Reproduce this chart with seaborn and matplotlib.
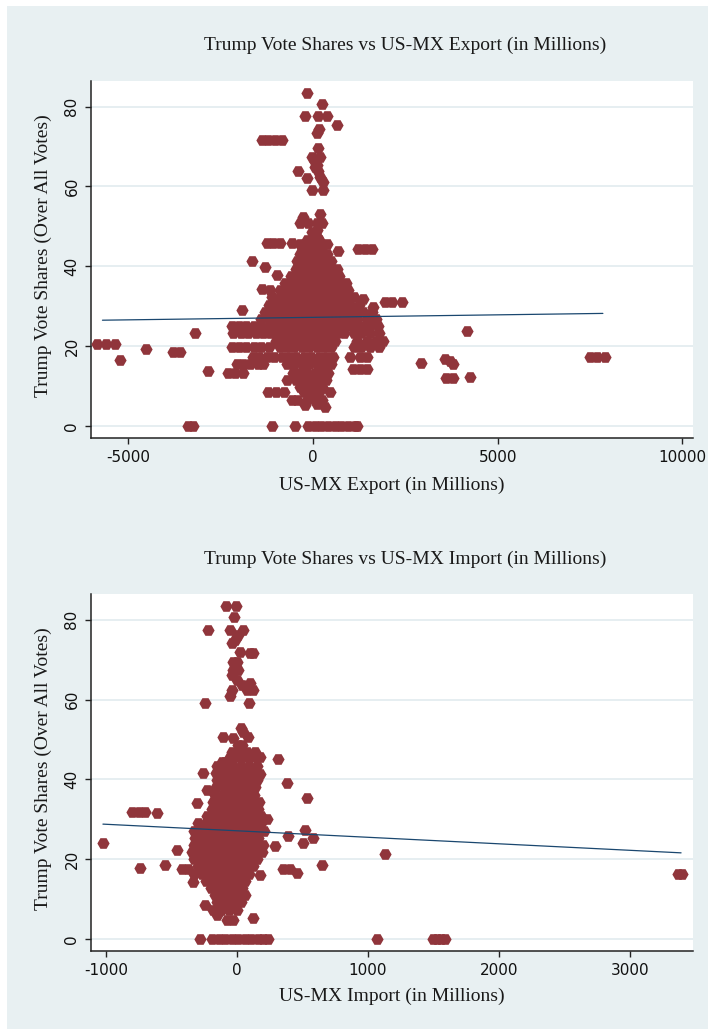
import matplotlib
matplotlib.use("Agg")
import matplotlib.pyplot as plt
import seaborn as sns
from matplotlib.patches import Rectangle

# ---------------------------------------------------------------------------
# County observations: (US-MX export change, Trump vote share)
# ---------------------------------------------------------------------------
export_points = [
    # upper tail
    (-171, 83.5), (235, 80.6), (-217, 77.7), (144, 77.7), (370, 77.7), (641, 75.5),
    (172, 74.3), (99, 73.3), (-1390, 71.6), (-1210, 71.6), (-1030, 71.6), (-850, 71.6),
    (126, 69.5), (-36, 67.3), (190, 67.3), (54, 66.2), (100, 65.4), (54, 64.9), (126, 63.9),
    (-397, 63.9), (-171, 62.0), (190, 62.4), (280, 61.2), (-36, 59.2), (280, 59.2),
    # crest of the main cluster
    (-280, 52.4), (190, 53.1), (-352, 50.8), (-126, 50.8), (99, 50.8), (235, 50.8),
    (-36, 48.6), (99, 49.0), (99, 47.4), (54, 46.1),
    (-1255, 45.9), (-1075, 45.9), (-894, 45.9), (-578, 45.9), (-352, 45.7), (-171, 44.4),
    (370, 45.5), (686, 43.9), (1228, 44.3), (1410, 44.3), (1590, 44.3),
    (-1662, 41.3), (-1300, 39.9), (-983, 37.8), (-1390, 34.2), (-1930, 29.0),
    (1364, 31.9), (1634, 29.8), (1950, 31.0), (2150, 31.0), (2400, 31.0),
    # main cluster
    (-150, 46.5), (0, 46.5), (150, 46.5),
    (-300, 44.8), (-120, 44.8), (60, 44.8), (240, 44.8),
    (-350, 43.0), (-170, 43.0), (10, 43.0), (190, 43.0), (370, 43.0),
    (-420, 41.2), (-240, 41.2), (-60, 41.2), (120, 41.2), (300, 41.2), (480, 41.2),
    (-450, 39.4), (-270, 39.4), (-90, 39.4), (90, 39.4), (270, 39.4), (450, 39.4), (640, 39.4),
    (-600, 37.6), (-420, 37.6), (-240, 37.6), (-60, 37.6), (120, 37.6), (300, 37.6), (480, 37.6),
    (700, 37.6),
    (-750, 35.8), (-560, 35.8), (-380, 35.8), (-200, 35.8), (-20, 35.8), (160, 35.8), (340, 35.8),
    (520, 35.8), (720, 35.8), (900, 35.8),
    (-1150, 34.0), (-900, 34.0), (-720, 34.0), (-540, 34.0), (-360, 34.0), (-180, 34.0), (0, 34.0),
    (180, 34.0), (360, 34.0), (540, 34.0), (760, 34.0), (950, 34.0),
    (-1100, 32.2), (-900, 32.2), (-700, 32.2), (-500, 32.2), (-300, 32.2), (-100, 32.2), (100, 32.2),
    (300, 32.2), (500, 32.2), (700, 32.2), (900, 32.2), (1100, 32.2),
    (-1200, 30.4), (-1000, 30.4), (-800, 30.4), (-600, 30.4), (-400, 30.4), (-200, 30.4), (0, 30.4),
    (200, 30.4), (400, 30.4), (600, 30.4), (800, 30.4), (1000, 30.4), (1250, 30.4),
    (-1300, 28.6), (-1100, 28.6), (-900, 28.6), (-700, 28.6), (-500, 28.6), (-300, 28.6), (-100, 28.6),
    (100, 28.6), (300, 28.6), (500, 28.6), (700, 28.6), (900, 28.6), (1100, 28.6), (1350, 28.6),
    (1600, 28.6),
    (-1400, 26.8), (-1200, 26.8), (-1000, 26.8), (-800, 26.8), (-600, 26.8), (-400, 26.8), (-200, 26.8),
    (0, 26.8), (200, 26.8), (400, 26.8), (600, 26.8), (800, 26.8), (1000, 26.8), (1200, 26.8),
    (1450, 26.8), (1700, 26.8),
    (-2200, 25.0), (-2000, 25.0), (-1800, 25.0), (-1600, 25.0), (-1400, 25.0), (-1200, 25.0),
    (-1030, 25.0), (-850, 25.0), (-650, 25.0), (-450, 25.0), (-250, 25.0), (-50, 25.0), (150, 25.0),
    (350, 25.0), (550, 25.0), (750, 25.0), (950, 25.0), (1150, 25.0), (1350, 25.0), (1550, 25.0),
    (1750, 25.0),
    (-2158, 23.2), (-1950, 23.2), (-1750, 23.2), (-1550, 23.2), (-1350, 23.2), (-1150, 23.2),
    (-950, 23.2), (-750, 23.2), (-550, 23.2), (-350, 23.2), (-150, 23.2), (50, 23.2), (250, 23.2),
    (450, 23.2), (650, 23.2), (850, 23.2), (1100, 23.2), (1300, 23.2), (1550, 23.2), (1800, 23.2),
    (-1000, 21.4), (-800, 21.4), (-600, 21.4), (-400, 21.4), (-200, 21.4), (0, 21.4), (200, 21.4),
    (400, 21.4), (600, 21.4), (1200, 21.4), (1450, 21.4), (1700, 21.4), (1900, 21.4),
    (-2200, 19.8), (-2000, 19.8), (-1800, 19.8), (-1600, 19.8), (-1400, 19.8), (-1200, 19.8),
    (-900, 19.8), (-700, 19.8), (-500, 19.8), (-300, 19.8), (-100, 19.8), (100, 19.8), (300, 19.8),
    (500, 19.8), (1100, 19.8), (1300, 19.8), (1550, 19.8), (1800, 19.8),
    (-1616, 17.4), (-1450, 17.4), (-1250, 17.4), (-1050, 17.4), (-850, 17.4), (-650, 17.4),
    (-450, 17.4), (-250, 17.4), (-50, 17.4), (150, 17.4), (350, 17.4), (550, 17.4), (1000, 17.4),
    (1273, 17.4), (1454, 17.4),
    (-2068, 15.6), (-1900, 15.6), (-1700, 15.6), (-1500, 15.6), (-1345, 15.6), (-700, 15.6),
    (-500, 15.6), (-300, 15.6), (-100, 15.6), (100, 15.6), (300, 15.6), (500, 15.6),
    (1093, 14.4), (1270, 14.4), (1454, 14.4),
    (-2290, 13.4), (-2100, 13.4), (-1900, 13.4), (-550, 13.4), (-350, 13.4), (-150, 13.4),
    (50, 13.4), (250, 13.4), (400, 13.4),
    (-713, 11.6), (-450, 11.6), (-250, 11.6), (-50, 11.6), (150, 11.6), (350, 11.6),
    (-350, 9.8), (-150, 9.8), (50, 9.8), (250, 9.8),
    (-1210, 8.5), (-1000, 8.5), (-780, 8.5), (-250, 8.5), (-50, 8.5), (150, 8.5), (460, 8.5),
    (-578, 6.5), (-420, 6.5), (-150, 6.5), (50, 6.5), (250, 6.5),
    (-217, 5.2), (99, 5.6), (325, 4.8),
    # far outliers
    (-5850, 20.5), (-5600, 20.5), (-5350, 20.5), (-5226, 16.5), (-4520, 19.2),
    (-3800, 18.6), (-3600, 18.6), (-3195, 23.4), (-2843, 13.7),
    (2924, 15.7), (3574, 16.9), (3700, 16.4), (3800, 15.6), (3600, 11.9), (3800, 11.9),
    (4170, 23.7), (4250, 12.4), (7500, 17.4), (7700, 17.4), (7900, 17.4),
    # zero vote share
    (-3385, 0), (-3250, 0), (-1118, 0), (-487, 0), (-135, 0), (45, 0), (225, 0), (405, 0),
    (585, 0), (765, 0), (945, 0), (1125, 0), (1190, 0),
]

# County observations: (US-MX import change, Trump vote share)
import_points = [
    # upper tail
    (-84, 83.5), (-7, 83.5), (-23, 80.6), (-219, 77.4), (-53, 77.4), (49, 77.4),
    (10, 76.2), (-15, 74.9), (-40, 74.1), (23, 72.0), (100, 71.8), (125, 71.8),
    (-28, 69.5), (-2, 69.5), (-28, 67.4), (10, 67.4), (-40, 66.2), (-2, 64.9),
    (36, 63.7), (100, 64.1), (125, 62.4), (74, 62.4), (-40, 62.4), (-53, 60.9),
    (-244, 59.2), (94, 59.2),
    # crest of the main cluster
    (28, 53.0), (49, 52.0), (87, 50.7), (-104, 50.7), (-28, 50.3), (10, 48.6), (36, 48.6),
    (-53, 45.7), (0, 45.7), (50, 45.7), (100, 45.7), (150, 45.7), (176, 45.7), (316, 45.0),
    (-117, 44.4), (-91, 44.4), (-257, 41.5), (176, 41.4), (-231, 37.3), (379, 39.0),
    (-308, 34.0), (532, 35.3), (-800, 31.8), (-750, 31.8), (-700, 31.8), (-613, 31.5),
    (227, 30.0),
    # main cluster
    (-40, 47.0), (20, 47.0), (80, 47.0), (140, 47.0),
    (-150, 43.4), (-90, 43.4), (-30, 43.4), (30, 43.4), (90, 43.4), (150, 43.4),
    (-160, 41.6), (-100, 41.6), (-40, 41.6), (20, 41.6), (80, 41.6), (140, 41.6),
    (-150, 39.8), (-90, 39.8), (-30, 39.8), (30, 39.8), (90, 39.8), (150, 39.8),
    (-160, 38.0), (-100, 38.0), (-40, 38.0), (20, 38.0), (80, 38.0), (140, 38.0),
    (-170, 36.2), (-110, 36.2), (-50, 36.2), (10, 36.2), (70, 36.2), (130, 36.2),
    (-180, 34.4), (-120, 34.4), (-60, 34.4), (0, 34.4), (60, 34.4), (120, 34.4), (170, 34.4),
    (-190, 32.6), (-130, 32.6), (-70, 32.6), (-10, 32.6), (50, 32.6), (110, 32.6), (160, 32.6),
    (-230, 30.8), (-170, 30.8), (-110, 30.8), (-50, 30.8), (10, 30.8), (70, 30.8), (130, 30.8),
    (180, 30.8),
    (-300, 29.0), (-240, 29.0), (-180, 29.0), (-120, 29.0), (-60, 29.0), (0, 29.0), (60, 29.0),
    (120, 29.0), (180, 29.0),
    (-330, 27.2), (-270, 27.2), (-210, 27.2), (-150, 27.2), (-90, 27.2), (-30, 27.2), (30, 27.2),
    (90, 27.2), (150, 27.2), (210, 27.2),
    (-320, 25.4), (-260, 25.4), (-200, 25.4), (-140, 25.4), (-80, 25.4), (-20, 25.4), (40, 25.4),
    (100, 25.4), (160, 25.4),
    (-330, 23.6), (-270, 23.6), (-210, 23.6), (-150, 23.6), (-90, 23.6), (-30, 23.6), (30, 23.6),
    (90, 23.6), (150, 23.6), (200, 23.6),
    (-340, 21.8), (-280, 21.8), (-220, 21.8), (-160, 21.8), (-100, 21.8), (-40, 21.8), (20, 21.8),
    (80, 21.8), (140, 21.8), (190, 21.8),
    (-330, 20.0), (-270, 20.0), (-210, 20.0), (-150, 20.0), (-90, 20.0), (-30, 20.0), (30, 20.0),
    (90, 20.0), (150, 20.0),
    (-300, 18.2), (-240, 18.2), (-180, 18.2), (-120, 18.2), (-60, 18.2), (0, 18.2), (60, 18.2),
    (120, 18.2),
    (-330, 16.4), (-270, 16.4), (-210, 16.4), (-150, 16.4), (-90, 16.4), (-30, 16.4), (30, 16.4),
    (90, 16.4),
    (-240, 14.6), (-180, 14.6), (-120, 14.6), (-60, 14.6), (0, 14.6), (60, 14.6),
    (-200, 12.8), (-140, 12.8), (-80, 12.8), (-20, 12.8), (40, 12.8),
    (-170, 11.0), (-110, 11.0), (-50, 11.0), (10, 11.0), (60, 11.0),
    (-150, 9.2), (-90, 9.2), (-30, 9.2), (30, 9.2),
    (-180, 7.4), (-120, 7.4), (-60, 7.4), (0, 7.4),
    # scattered points around the cluster
    (-1023, 24.0), (-740, 17.8), (-460, 22.3), (-549, 18.5), (-422, 17.5), (-371, 17.5),
    (-333, 14.4), (-244, 8.5), (-155, 6.0), (-79, 4.8), (-30, 4.8), (125, 5.2),
    (392, 25.8), (519, 27.3), (583, 25.2), (507, 24.0), (290, 23.3),
    (354, 17.5), (405, 17.5), (456, 16.5), (647, 18.5), (176, 16.0),
    (1130, 21.3), (3370, 16.3), (3400, 16.3),
    # zero vote share
    (-282, 0), (-193, 0), (-140, 0), (-90, 0), (-40, 0), (10, 0), (60, 0), (110, 0), (160, 0),
    (200, 0), (240, 0), (1069, 0), (1500, 0), (1530, 0), (1560, 0), (1590, 0),
]

# Linear fit lines (end points)
export_fit_x = [-5700, 7850]
export_fit_y = [26.5, 28.2]
import_fit_x = [-1023, 3390]
import_fit_y = [28.8, 21.6]

# Axis ticks and labels
y_ticks = [0, 20, 40, 60, 80]
export_x_ticks = [-5000, 0, 5000, 10000]
import_x_ticks = [-1000, 0, 1000, 2000, 3000]
panel_titles = ["Trump Vote Shares vs US-MX Export (in Millions)",
                "Trump Vote Shares vs US-MX Import (in Millions)"]
panel_xlabels = ["US-MX Export (in Millions)", "US-MX Import (in Millions)"]
y_label = "Trump Vote Shares (Over All Votes)"

# ---------------------------------------------------------------------------
sns.set_theme(style="white")
plt.rcParams["font.family"] = ["DejaVu Sans"]
plt.rcParams["axes.unicode_minus"] = False

BG = "#E8F0F2"
GRID = "#E6EEF1"
MAROON = "#90353B"
NAVY = "#1A476F"
SERIF = ["Liberation Serif", "DejaVu Serif"]

W, H = 708, 1029
fig = plt.figure(figsize=(W / 100, H / 100), dpi=100, facecolor="white")
fig.patches.append(Rectangle((7 / W, 0), 1 - 7 / W, 1 - 6 / H, transform=fig.transFigure,
                             facecolor=BG, edgecolor="none", zorder=-10))

panels = [
    dict(points=export_points, fit_x=export_fit_x, fit_y=export_fit_y, xticks=export_x_ticks,
         xlim=(-6010, 10290), top=81, bottom=438, title_base=58.5, xlabel_base=489.5),
    dict(points=import_points, fit_x=import_fit_x, fit_y=import_fit_y, xticks=import_x_ticks,
         xlim=(-1114, 3481), top=594.3, bottom=951, title_base=572.3, xlabel_base=1000.5),
]

left_px, right_px = 91, 693
for i, p in enumerate(panels):
    h = p["bottom"] - p["top"]
    ax = fig.add_axes([left_px / W, 1 - p["bottom"] / H, (right_px - left_px) / W, h / H])
    ax.set_facecolor("white")
    ax.set_zorder(1)

    xs = [pt[0] for pt in p["points"]]
    ys = [pt[1] for pt in p["points"]]
    sns.scatterplot(x=xs, y=ys, ax=ax, color=MAROON, marker="H", s=78, linewidth=0,
                    legend=False, zorder=3)
    sns.lineplot(x=p["fit_x"], y=p["fit_y"], ax=ax, color=NAVY, linewidth=0.9,
                 estimator=None, sort=False, zorder=4)

    ax.set_xlim(*p["xlim"])
    ax.set_ylim(-3.0, 86.4)
    ax.set_xticks(p["xticks"])
    ax.set_yticks(y_ticks)
    ax.set_xticklabels([str(t) for t in p["xticks"]])
    ax.set_yticklabels([str(t) for t in y_ticks])

    ax.grid(axis="y", color=GRID, linewidth=1.4)
    ax.grid(axis="x", visible=False)
    ax.set_axisbelow(True)
    for side in ("top", "right"):
        ax.spines[side].set_visible(False)
    for side in ("left", "bottom"):
        ax.spines[side].set_color("#222222")
        ax.spines[side].set_linewidth(1.1)

    ax.tick_params(axis="both", direction="out", length=4.3, width=1.0, color="#222222",
                   labelsize=11, labelcolor="#111111", pad=4, left=True, bottom=True)
    for lab in ax.get_yticklabels():
        lab.set_rotation(90)
        lab.set_va("center")

    ax.set_title(panel_titles[i], x=(405 - left_px) / (right_px - left_px),
                 y=(p["bottom"] - p["title_base"]) / h, va="baseline",
                 fontfamily=SERIF, fontsize=14, color="#1a1a1a")
    ax.set_xlabel(panel_xlabels[i], fontfamily=SERIF, fontsize=14, color="#1a1a1a")
    ax.xaxis.set_label_coords(0.5, -(p["xlabel_base"] - p["bottom"]) / h)
    ax.xaxis.label.set_va("baseline")
    ax.set_ylabel(y_label, fontfamily=SERIF, fontsize=14, color="#1a1a1a")
    ax.yaxis.set_label_coords((43.5 - left_px) / (right_px - left_px), 0.511)
    ax.yaxis.label.set_va("center")

fig.savefig("out.png", dpi=100, facecolor=fig.get_facecolor())
